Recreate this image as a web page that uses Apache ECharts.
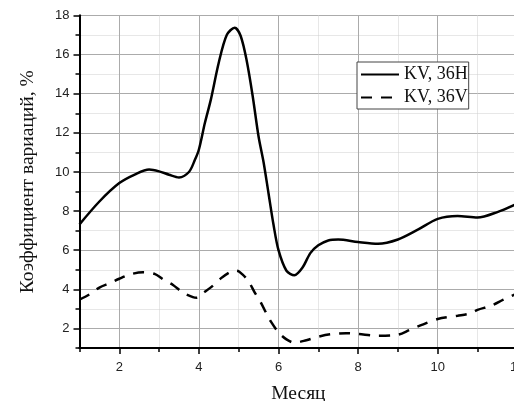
<!DOCTYPE html>
<html>
<head>
<meta charset="utf-8">
<script src="https://cdn.jsdelivr.net/npm/echarts@6/dist/echarts.min.js"></script>
<style>html,body{margin:0;padding:0;background:#fff}#c{width:514px;height:401px}</style>
</head>
<body>
<div id="c"></div>
<script>
// Series names
var seriesNames = ['KV, 36H', 'KV, 36V'];
// [month, value]
var kv36H = [
  [1, 7.32], [1.5, 8.49], [2, 9.43], [2.4, 9.88], [2.75, 10.12], [3, 10.03], [3.25, 9.86],
  [3.5, 9.72], [3.75, 10.0], [3.9, 10.62], [4, 11.15], [4.15, 12.5], [4.3, 13.7], [4.5, 15.6],
  [4.7, 17.0], [4.9, 17.38], [5.05, 16.95], [5.2, 15.7], [5.35, 13.9], [5.5, 11.8], [5.625, 10.5],
  [5.75, 8.9], [5.875, 7.3], [6, 6.0], [6.2, 4.95], [6.4, 4.72], [6.6, 5.1], [6.8, 5.85],
  [7, 6.25], [7.25, 6.5], [7.5, 6.55], [8, 6.42], [8.5, 6.33], [9, 6.55], [9.5, 7.05],
  [10, 7.6], [10.5, 7.75], [11, 7.67], [11.5, 7.95], [12, 8.38]
];
var kv36V = [
  [1, 3.47], [1.25, 3.74], [1.5, 4.09], [1.77, 4.32], [2, 4.54], [2.3, 4.78], [2.6, 4.87],
  [2.9, 4.78], [3.1, 4.51], [3.35, 4.22], [3.6, 3.83], [3.85, 3.6], [3.95, 3.57], [4.1, 3.8],
  [4.3, 4.1], [4.55, 4.56], [4.8, 4.9], [4.95, 4.95], [5.1, 4.75], [5.25, 4.4], [5.4, 3.85],
  [5.55, 3.35], [5.7, 2.75], [5.8, 2.38], [6, 1.8], [6.2, 1.44], [6.4, 1.27], [6.7, 1.4],
  [7, 1.58], [7.3, 1.7], [7.7, 1.76], [8, 1.72], [8.5, 1.63], [9, 1.68], [9.3, 1.93],
  [9.6, 2.18], [10, 2.48], [10.5, 2.65], [10.8, 2.76], [11, 2.95], [11.35, 3.17],
  [11.65, 3.47], [12, 3.8]
];
// Tick values
var xMajorTicks = [2, 4, 6, 8, 10, 12];
var xMinorTicks = [1, 3, 5, 7, 9, 11];
var yMajorTicks = [2, 4, 6, 8, 10, 12, 14, 16, 18];
var yMinorTicks = [1, 3, 5, 7, 9, 11, 13, 15, 17];
var xName = 'Месяц';
var yName = 'Коэффициент вариаций, %';

var chart = echarts.init(document.getElementById('c'), null, {renderer: 'canvas'});
var axisLineStyle = {color: '#000', width: 2};
var majorSplit = {show: true, lineStyle: {color: '#ababab', width: 1, type: 'solid'}};
var minorSplit = {show: true, lineStyle: {color: '#cfcfcf', width: 1, type: 'dotted'}};

chart.setOption({
  animation: false,
  backgroundColor: '#fff',
  grid: {left: 79.5, right: -3.3, top: 15.5, bottom: 53, containLabel: false, outerBoundsMode: 'none'},
  legend: {
    data: seriesNames,
    orient: 'vertical',
    left: 357, top: 62,
    padding: [3, 1, 2, 3],
    itemWidth: 38, itemHeight: 14, itemGap: 4,
    borderColor: '#444', borderWidth: 1, backgroundColor: '#fff',
    itemStyle: {color: 'rgba(0,0,0,0)', borderColor: 'rgba(0,0,0,0)', borderWidth: 0},
    textStyle: {fontFamily: 'Liberation Serif', fontSize: 18, lineHeight: 19, color: '#111'}
  },
  xAxis: [{
    type: 'value', min: 1, max: 12, interval: 1, position: 'bottom',
    name: xName, nameLocation: 'middle', nameGap: 36,
    nameTextStyle: {fontFamily: 'Liberation Serif', fontSize: 19.5, color: '#111'},
    axisLine: {show: true, lineStyle: axisLineStyle},
    axisTick: {show: true, inside: false, length: 6, customValues: xMajorTicks, lineStyle: {color: '#000', width: 1.5}},
    axisLabel: {show: true, margin: 13, customValues: xMajorTicks, fontFamily: 'Liberation Sans', fontSize: 13, color: '#222'},
    splitLine: majorSplit
  }, {
    type: 'value', min: 1, max: 12, interval: 1, position: 'bottom', offset: 0,
    axisLine: {show: true, lineStyle: axisLineStyle},
    axisTick: {show: true, inside: false, length: 4, customValues: xMinorTicks, lineStyle: {color: '#000', width: 1.5}},
    axisLabel: {show: false},
    splitLine: minorSplit
  }],
  yAxis: [{
    type: 'value', min: 1, max: 18, interval: 1, position: 'left',
    name: yName, nameLocation: 'middle', nameGap: 42,
    nameTextStyle: {fontFamily: 'Liberation Serif', fontSize: 19.5, color: '#111'},
    axisLine: {show: true, lineStyle: axisLineStyle},
    axisTick: {show: true, inside: false, length: 6, customValues: yMajorTicks, lineStyle: {color: '#000', width: 1.5}},
    axisLabel: {show: true, margin: 10, customValues: yMajorTicks, fontFamily: 'Liberation Sans', fontSize: 13, color: '#222'},
    splitLine: majorSplit
  }, {
    type: 'value', min: 1, max: 18, interval: 1, position: 'left', offset: 0,
    axisLine: {show: true, lineStyle: axisLineStyle},
    axisTick: {show: true, inside: false, length: 4, customValues: yMinorTicks, lineStyle: {color: '#000', width: 1.5}},
    axisLabel: {show: false},
    splitLine: minorSplit
  }],
  series: [{
    name: seriesNames[0], type: 'line', data: kv36H, smooth: 0.3,
    symbol: 'none', showSymbol: false, xAxisIndex: 0, yAxisIndex: 0,
    lineStyle: {color: '#000', width: 2.5, type: 'solid'}, itemStyle: {color: '#000'}, z: 5
  }, {
    name: seriesNames[1], type: 'line', data: kv36V, smooth: 0.3,
    symbol: 'none', showSymbol: false, xAxisIndex: 0, yAxisIndex: 0,
    lineStyle: {color: '#000', width: 2.5, type: [11, 9]}, itemStyle: {color: '#000'}, z: 5
  }]
});
</script>
</body>
</html>
